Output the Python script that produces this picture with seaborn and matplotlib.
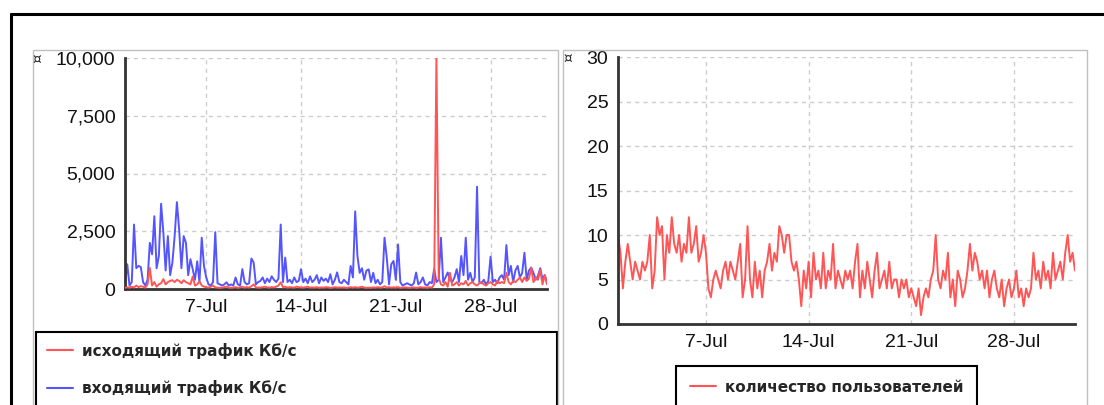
import seaborn as sns
import pandas as pd
import matplotlib.pyplot as plt
import matplotlib.dates as mdates
from matplotlib.ticker import StrMethodFormatter
from matplotlib.lines import Line2D
from matplotlib.patches import Rectangle

# 4-hour samples, 1 Jul 00:00 .. 1 Aug 04:00 (one row per day)
outgoing = [
    50, 80, 60, 100, 70, 150,
    80, 120, 100, 60, 200, 910,
    150, 300, 100, 200, 250, 430,
    200, 300, 350, 380, 300, 400,
    350, 250, 380, 300, 250, 200,
    540, 150, 200, 330, 150, 100,
    80, 60, 100, 150, 70, 60,
    50, 60, 80, 100, 60, 50,
    60, 80, 50, 70, 100, 60,
    80, 60, 120, 200, 70, 60,
    60, 80, 100, 70, 60, 80,
    70, 100, 150, 290, 80, 100,
    60, 80, 70, 60, 100, 80,
    70, 60, 80, 100, 60, 70,
    60, 80, 50, 70, 60, 80,
    70, 50, 60, 80, 60, 70,
    60, 70, 50, 60, 80, 60,
    80, 60, 70, 100, 60, 50,
    60, 50, 70, 60, 80, 60,
    70, 120, 60, 80, 60, 70,
    60, 80, 50, 60, 70, 60,
    50, 60, 70, 50, 60, 80,
    60, 70, 50, 80, 60, 200,
    10000, 490, 200, 150, 300, 100,
    700, 150, 200, 300, 150, 250,
    200, 350, 150, 250, 300, 200,
    150, 250, 300, 200, 150, 250,
    300, 200, 150, 350, 250, 300,
    250, 700, 300, 200, 350, 300,
    400, 500, 300, 500, 350, 450,
    910, 300, 500, 400, 830, 200,
    600, 200,
]
incoming = [
    200, 1070, 150, 300, 2790, 900,
    1000, 950, 300, 150, 400, 2000,
    1500, 3150, 900, 1430, 3690, 2430,
    800, 2290, 600, 1140, 2290, 3760,
    2570, 900, 2290, 2000, 600, 1290,
    860, 400, 1200, 300, 2220, 1000,
    500, 200, 150, 300, 2460, 250,
    200, 150, 200, 290, 150, 200,
    150, 500, 200, 150, 860, 300,
    200, 250, 1320, 1150, 200, 300,
    350, 500, 250, 450, 300, 550,
    400, 300, 450, 2790, 300, 1360,
    300, 400, 250, 500, 300, 350,
    860, 300, 450, 250, 550, 300,
    400, 600, 250, 500, 350, 450,
    300, 640, 200, 400, 720, 300,
    250, 400, 300, 200, 1000, 500,
    3360, 1430, 700, 900, 400, 800,
    850, 300, 700, 250, 400, 200,
    300, 2220, 1360, 200, 1070, 1215,
    400, 1930, 300, 150, 200, 250,
    200, 150, 250, 715, 200, 300,
    500, 200, 150, 300, 250, 860,
    300, 400, 2220, 300, 500, 715,
    400, 300, 500, 860, 300, 1430,
    600, 2220, 400, 700, 300, 500,
    4430, 300, 250, 400, 200, 350,
    1400, 300, 400, 250, 500, 600,
    400, 1900, 600, 1000, 300, 800,
    1000, 500, 700, 1570, 400, 800,
    930, 700, 400, 570, 900, 430,
    600, 300,
]
users = [
    10, 8, 4, 7, 9, 7,
    5, 7, 6, 5, 7, 6,
    7, 10, 4, 6, 12, 10,
    11, 5, 10, 8, 12, 9,
    8, 10, 7, 9, 8, 12,
    8, 9, 11, 7, 8, 10,
    8, 4, 3, 5, 6, 5,
    4, 6, 7, 5, 7, 6,
    5, 7, 9, 3, 5, 11,
    5, 3, 7, 4, 6, 3,
    6, 7, 9, 6, 8, 7,
    11, 10, 8, 10, 10, 7,
    6, 7, 5, 2, 6, 4,
    7, 3, 8, 5, 6, 4,
    8, 4, 6, 5, 9, 4,
    6, 5, 4, 6, 5, 6,
    4, 7, 9, 3, 6, 4,
    7, 5, 3, 6, 8, 4,
    5, 6, 4, 7, 4, 5,
    5, 3, 5, 4, 5, 3,
    4, 3, 2, 4, 1, 3,
    4, 3, 5, 6, 10, 5,
    4, 6, 5, 8, 3, 5,
    2, 6, 5, 3, 4, 6,
    9, 6, 8, 7, 5, 6,
    4, 6, 3, 5, 6, 4,
    3, 5, 2, 4, 5, 3,
    4, 6, 3, 4, 2, 4,
    3, 4, 8, 5, 6, 4,
    7, 5, 6, 4, 8, 5,
    6, 7, 5, 8, 10, 7,
    8, 6,
]
label_out = "исходящий трафик Кб/с"
label_in = "входящий трафик Кб/с"
label_users = "количество пользователей"

times = pd.date_range("2013-07-01", periods=len(users), freq="4h")
df = pd.DataFrame({"time": times, "out": outgoing, "in": incoming, "users": users})

RED = "#ff5555"
BLUE = "#5555ff"
W, H = 1104, 405

sns.set_style("white")
plt.rcParams["font.family"] = ["Liberation Sans", "DejaVu Sans"]

fig = plt.figure(figsize=(W / 100, H / 100), dpi=100)

def fx(x):
    return x / W

def fy(y):
    return 1 - y / H

# outer frame and panel boxes
fig.add_artist(Line2D([fx(11), 1], [fy(14), fy(14)], color="black", lw=2.2))
fig.add_artist(Line2D([fx(11), fx(11)], [fy(14), 0], color="black", lw=2.2))
fig.add_artist(Rectangle((fx(33), fy(420)), fx(558 - 33), (420 - 50) / H,
                         fill=False, ec="#c0c0c0", lw=1))
fig.add_artist(Rectangle((fx(563), fy(420)), fx(1087 - 563), (420 - 50) / H,
                         fill=False, ec="#c0c0c0", lw=1))

ax1 = fig.add_axes([fx(125), fy(289), fx(547 - 125), (289 - 58) / H])
ax2 = fig.add_axes([fx(618), fy(324), fx(1075 - 618), (324 - 57) / H])

sns.lineplot(data=df, x="time", y="in", ax=ax1, color=BLUE, lw=1.4, zorder=2)
sns.lineplot(data=df, x="time", y="out", ax=ax1, color=RED, lw=1.4, zorder=3)
sns.lineplot(data=df, x="time", y="users", ax=ax2, color=RED, lw=1.4)

for ax, top, ticks in [(ax1, 10000, [0, 2500, 5000, 7500, 10000]),
                       (ax2, 30, [0, 5, 10, 15, 20, 25, 30])]:
    ax.set_xlim(times[0], times[-1])
    ax.set_ylim(0, top)
    ax.set_yticks(ticks)
    ax.set_xlabel("")
    ax.set_ylabel("")
    ax.xaxis.set_major_locator(mdates.DayLocator(bymonthday=[7, 14, 21, 28]))
    ax.xaxis.set_major_formatter(mdates.DateFormatter("%-d-%b"))
    ax.grid(True, color="#cccccc", ls=(0, (3, 3)), lw=1)
    for s in ["top", "right"]:
        ax.spines[s].set_visible(False)
    for s in ["left", "bottom"]:
        ax.spines[s].set_color("#333333")
        ax.spines[s].set_linewidth(2)
    ax.tick_params(axis="both", length=4, width=1.5, color="#333333",
                   labelsize=14, labelcolor="#111111", pad=3)
ax1.yaxis.set_major_formatter(StrMethodFormatter("{x:,.0f}"))

fig.text(fx(37), fy(60), "¤", fontsize=10, ha="center", va="center", family="DejaVu Sans")
fig.text(fx(568), fy(59), "¤", fontsize=10, ha="center", va="center", family="DejaVu Sans")

h_out = Line2D([], [], color=RED, lw=1.5)
h_in = Line2D([], [], color=BLUE, lw=1.5)
h_users = Line2D([], [], color=RED, lw=1.5)
leg_font = {"family": "DejaVu Sans", "weight": "bold", "size": 11}

leg1 = ax1.legend([h_out, h_in], [label_out, label_in], loc="upper left",
                  bbox_to_anchor=(fx(36), fy(403), fx(557 - 36), (403 - 332) / H),
                  bbox_transform=fig.transFigure, mode="expand", borderaxespad=0,
                  prop=leg_font, fancybox=False, framealpha=1, edgecolor="black",
                  handlelength=1.7, handletextpad=0.6, labelspacing=1.4, borderpad=0.7)
leg1.get_frame().set_linewidth(1.5)

leg2 = ax2.legend([h_users], [label_users], loc="upper center",
                  bbox_to_anchor=(fx(826.5), fy(366)), bbox_transform=fig.transFigure,
                  borderaxespad=0, prop=leg_font, fancybox=False, framealpha=1,
                  edgecolor="black", handlelength=1.7, handletextpad=0.6, borderpad=0.9)
leg2.get_frame().set_linewidth(1.5)

fig.savefig("out.png", dpi=100)
